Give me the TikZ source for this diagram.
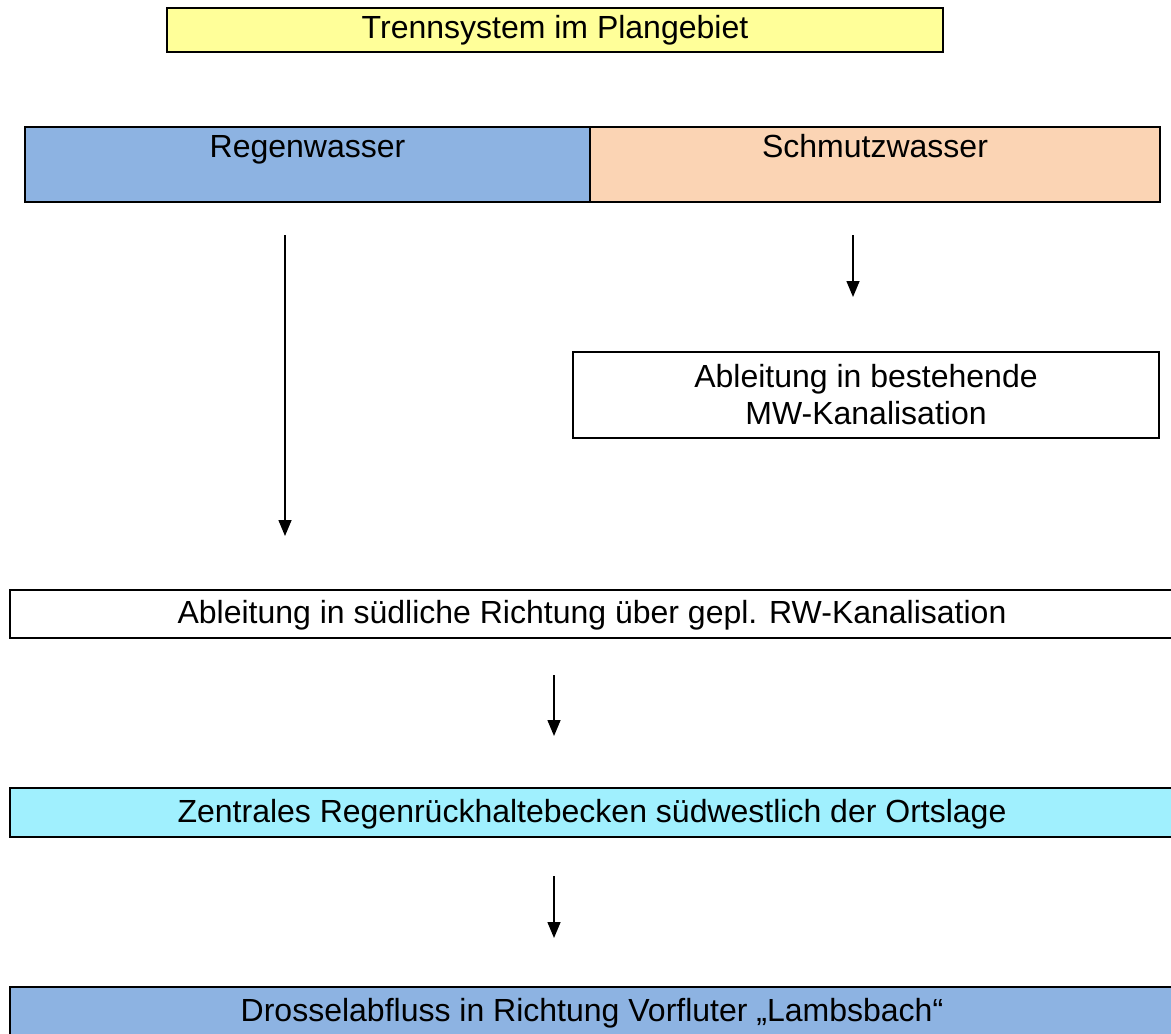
\documentclass[tikz,border=0pt]{standalone}
\usepackage{fontspec}
\setmainfont{Liberation Sans}
\usetikzlibrary{arrows.meta}
\definecolor{yel}{HTML}{FFFF99}
\definecolor{rblue}{HTML}{8DB3E2}
\definecolor{peach}{HTML}{FBD4B4}
\definecolor{lcyan}{HTML}{A0F0FE}
\begin{document}
\begin{tikzpicture}[x=0.5pt,y=-0.5pt,
  every node/.style={font=\fontsize{16}{18.5}\selectfont},
  boxst/.style={draw=black,line width=1.3pt,inner sep=0pt,rectangle},
  txt/.style={inner sep=0pt,anchor=base},
  arr/.style={line width=0.75pt,-{Triangle[length=8pt,width=6.5pt]}}]
\clip (0,0) rectangle (1171,1033);
\fill[white] (0,0) rectangle (1171,1033);
% boxes
\node[boxst,fill=yel,minimum width=388pt,minimum height=22pt] (top) at (555,30) {};
\node[boxst,fill=rblue,minimum width=282.5pt,minimum height=37.5pt] (regen) at (307.5,164.5) {};
\node[boxst,fill=peach,minimum width=285pt,minimum height=37.5pt] (schmutz) at (875,164.5) {};
\node[boxst,fill=white,minimum width=293pt,minimum height=43pt] (mw) at (866,395) {};
\node[boxst,fill=white,minimum width=582pt,minimum height=24pt] (sued) at (592,614) {};
\node[boxst,fill=lcyan,minimum width=582pt,minimum height=24.5pt] (zentral) at (592,812.5) {};
\node[boxst,fill=rblue,minimum width=582pt,minimum height=26pt] (drossel) at (592,1013) {};
% texts
\node[txt] (toptxt) at (555,39) {Trennsystem im Plangebiet};
\node[txt] (regentxt) at (307.5,157) {Regenwasser};
\node[txt] (schmutztxt) at (875,157) {Schmutzwasser};
\node[txt] (mwtxta) at (866,387) {Ableitung in bestehende};
\node[txt] (mwtxtb) at (866,424) {MW-Kanalisation};
\node[txt] (suedtxt) at (592,623) {Ableitung in südliche Richtung über gepl. RW-Kanalisation};
\node[txt] (zentraltxt) at (592,822) {Zentrales Regenrückhaltebecken südwestlich der Ortslage};
\node[txt] (drosseltxt) at (592,1021) {Drosselabfluss in Richtung Vorfluter „Lambsbach“};
% arrow coordinates
\coordinate (a1s) at (285,235);
\coordinate (a1e) at (285,536);
\coordinate (a2s) at (853,235);
\coordinate (a2e) at (853,297);
\coordinate (a3s) at (554,675);
\coordinate (a3e) at (554,736);
\coordinate (a4s) at (554,876);
\coordinate (a4e) at (554,938);
\draw[arr] (a1s) -- (a1e);
\draw[arr] (a2s) -- (a2e);
\draw[arr] (a3s) -- (a3e);
\draw[arr] (a4s) -- (a4e);
\end{tikzpicture}
\end{document}
